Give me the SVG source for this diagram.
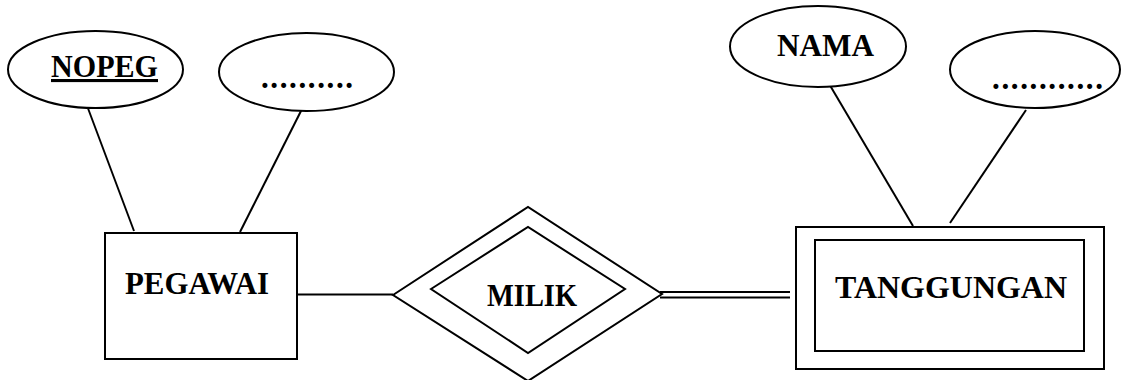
<svg xmlns="http://www.w3.org/2000/svg" width="1121" height="380" viewBox="0 0 1121 380">
<style>
.s{fill:#fff;stroke:#000;stroke-width:2}
.l{stroke:#000;stroke-width:2;fill:none}
.t{font-family:"Liberation Serif","Times New Roman",serif;font-weight:bold;font-size:31px;fill:#000}
</style>
<rect width="1121" height="380" fill="#fff"/>
<g id="connectors">
<line class="l" x1="86" y1="103" x2="134" y2="231"/>
<line class="l" x1="303" y1="107" x2="240" y2="232"/>
<line class="l" x1="828" y1="82" x2="913" y2="226"/>
<line class="l" x1="1026" y1="110" x2="950" y2="223"/>
<line class="l" x1="297" y1="294.5" x2="393" y2="294.5"/>
<line class="l" x1="660" y1="292" x2="790" y2="292"/>
<line class="l" x1="660" y1="297.5" x2="790" y2="297.5"/>
</g>
<g id="attr-nopeg">
<ellipse class="s" cx="95.5" cy="69.5" rx="87.5" ry="38.5"/>
<text class="t" x="51" y="77" textLength="107" lengthAdjust="spacingAndGlyphs" text-decoration="underline">NOPEG</text>
</g>
<g id="attr-dots1">
<ellipse class="s" cx="306.5" cy="72" rx="87.5" ry="39"/>
<text class="t" x="261" y="88" textLength="92" lengthAdjust="spacing">..........</text>
</g>
<g id="attr-nama">
<ellipse class="s" cx="818" cy="46.5" rx="88" ry="40.5"/>
<text class="t" x="777" y="56" textLength="97" lengthAdjust="spacingAndGlyphs">NAMA</text>
</g>
<g id="attr-dots2">
<ellipse class="s" cx="1035" cy="69.5" rx="85" ry="38.5"/>
<text class="t" x="992" y="89" textLength="111" lengthAdjust="spacing">............</text>
</g>
<g id="entity-pegawai">
<rect class="s" x="105" y="233" width="192" height="126"/>
<text class="t" x="125" y="294" textLength="144" lengthAdjust="spacingAndGlyphs">PEGAWAI</text>
</g>
<g id="rel-milik">
<polygon class="s" points="393,295 528,207 662,294 528,381"/>
<polygon class="s" points="431,289 528,227 625,289 528,353"/>
<text class="t" x="487" y="306" textLength="90" lengthAdjust="spacingAndGlyphs">MILIK</text>
</g>
<g id="entity-tanggungan">
<rect class="s" x="796" y="227" width="308" height="142"/>
<rect class="s" x="815" y="240" width="269" height="111"/>
<text class="t" x="835" y="298" textLength="232" lengthAdjust="spacingAndGlyphs">TANGGUNGAN</text>
</g>
</svg>
